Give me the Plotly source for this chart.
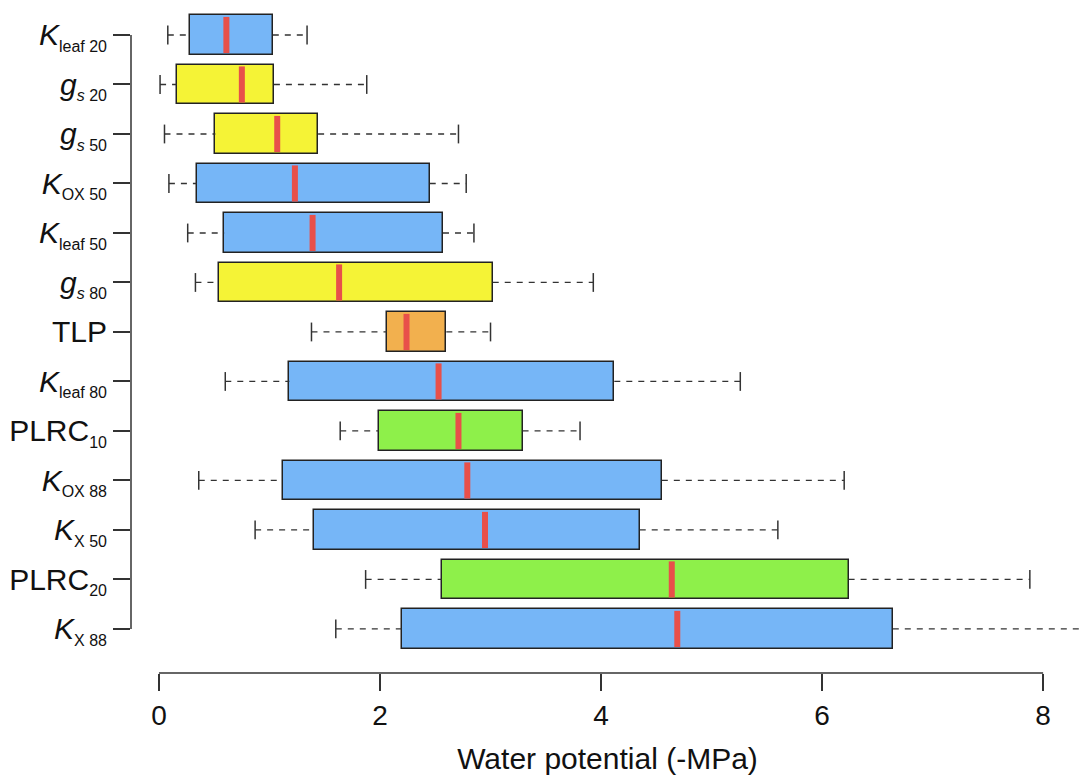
import plotly.graph_objects as go

SUB = "<sub><span style='font-size:16px'>{}</span></sub>"
labels = [
    "<i>K</i>" + SUB.format("leaf 20"),
    "<i>g</i>" + SUB.format("<i>s</i> 20"),
    "<i>g</i>" + SUB.format("<i>s</i> 50"),
    "<i>K</i>" + SUB.format("OX 50"),
    "<i>K</i>" + SUB.format("leaf 50"),
    "<i>g</i>" + SUB.format("<i>s</i> 80"),
    "TLP",
    "<i>K</i>" + SUB.format("leaf 80"),
    "PLRC" + SUB.format("10"),
    "<i>K</i>" + SUB.format("OX 88"),
    "<i>K</i>" + SUB.format("X 50"),
    "PLRC" + SUB.format("20"),
    "<i>K</i>" + SUB.format("X 88"),
]
lower = [0.08, 0.01, 0.05, 0.09, 0.26, 0.33, 1.38, 0.60, 1.64, 0.36, 0.87, 1.87, 1.60]
q1 = [0.28, 0.16, 0.51, 0.34, 0.59, 0.54, 2.06, 1.18, 1.99, 1.12, 1.40, 2.56, 2.20]
median = [0.61, 0.75, 1.07, 1.23, 1.39, 1.63, 2.24, 2.53, 2.71, 2.79, 2.95, 4.64, 4.69]
q3 = [1.03, 1.04, 1.44, 2.45, 2.57, 3.02, 2.60, 4.12, 3.29, 4.55, 4.35, 6.24, 6.64]
upper = [1.34, 1.88, 2.71, 2.78, 2.85, 3.93, 3.00, 5.26, 3.81, 6.20, 5.60, 7.88, 8.55]
groups = ["K", "gs", "gs", "K", "K", "gs", "TLP", "K", "PLRC", "K", "K", "PLRC", "K"]
x_ticks = [0, 2, 4, 6, 8]

color_map = {"K": "#76B6F7", "gs": "#F5F336", "TLP": "#F2B04E", "PLRC": "#8EF04A"}
colors = [color_map[g] for g in groups]
ypos = list(range(len(labels)))
box_h = 0.79
cap_h = 0.19

fig = go.Figure()

# whiskers (dashed)
wx, wy = [], []
for i in ypos:
    wx += [lower[i], q1[i], None, q3[i], upper[i], None]
    wy += [i, i, None, i, i, None]
fig.add_trace(go.Scatter(x=wx, y=wy, mode="lines",
                         line=dict(color="#333333", width=1.3, dash="6px,6px"),
                         hoverinfo="skip", showlegend=False))
# caps
cx, cy = [], []
for i in ypos:
    for v in (lower[i], upper[i]):
        cx += [v, v, None]
        cy += [i - cap_h, i + cap_h, None]
fig.add_trace(go.Scatter(x=cx, y=cy, mode="lines",
                         line=dict(color="#333333", width=1.5),
                         hoverinfo="skip", showlegend=False))

# boxes
fig.add_trace(go.Bar(
    y=ypos, x=[b - a for a, b in zip(q1, q3)], base=q1, orientation="h",
    width=box_h, marker=dict(color=colors, line=dict(color="#222222", width=1.5)),
    showlegend=False))

# medians
mx, my = [], []
for i in ypos:
    mx += [median[i], median[i], None]
    my += [i - box_h / 2 + 0.03, i + box_h / 2 - 0.03, None]
fig.add_trace(go.Scatter(x=mx, y=my, mode="lines",
                         line=dict(color="#E8504A", width=6),
                         hoverinfo="skip", showlegend=False))

font_family = "Liberation Sans, Arial, sans-serif"
fig.update_layout(
    width=1084, height=778,
    margin=dict(l=131, r=0, t=0, b=105),
    plot_bgcolor="white", paper_bgcolor="white",
    font=dict(family=font_family, color="#111111"),
    bargap=0,
    xaxis=dict(range=[-0.253, 8.37], tickvals=x_ticks, ticks="outside", ticklen=17,
               tickwidth=1.5, tickcolor="#333333", showgrid=False, zeroline=False,
               showline=False, tickfont=dict(size=28),
               title=dict(text="Water potential (-MPa)", font=dict(size=30), standoff=18)),
    yaxis=dict(range=[12.89, -0.707], tickvals=ypos, ticktext=labels, ticks="outside",
               ticklen=17, tickwidth=1.5, tickcolor="#333333", showgrid=False,
               zeroline=False, showline=False, tickfont=dict(size=30)),
)
# detached axis lines (R style)
fig.add_shape(type="line", xref="x", yref="paper", x0=0, x1=8, y0=0, y1=0,
              line=dict(color="#333333", width=1.5))
fig.add_shape(type="line", xref="paper", yref="y", x0=0, x1=0, y0=0, y1=12,
              line=dict(color="#333333", width=1.5))

fig.write_html("out.html", config={"displayModeBar": False},
               post_script="document.body.style.margin='0px';")
